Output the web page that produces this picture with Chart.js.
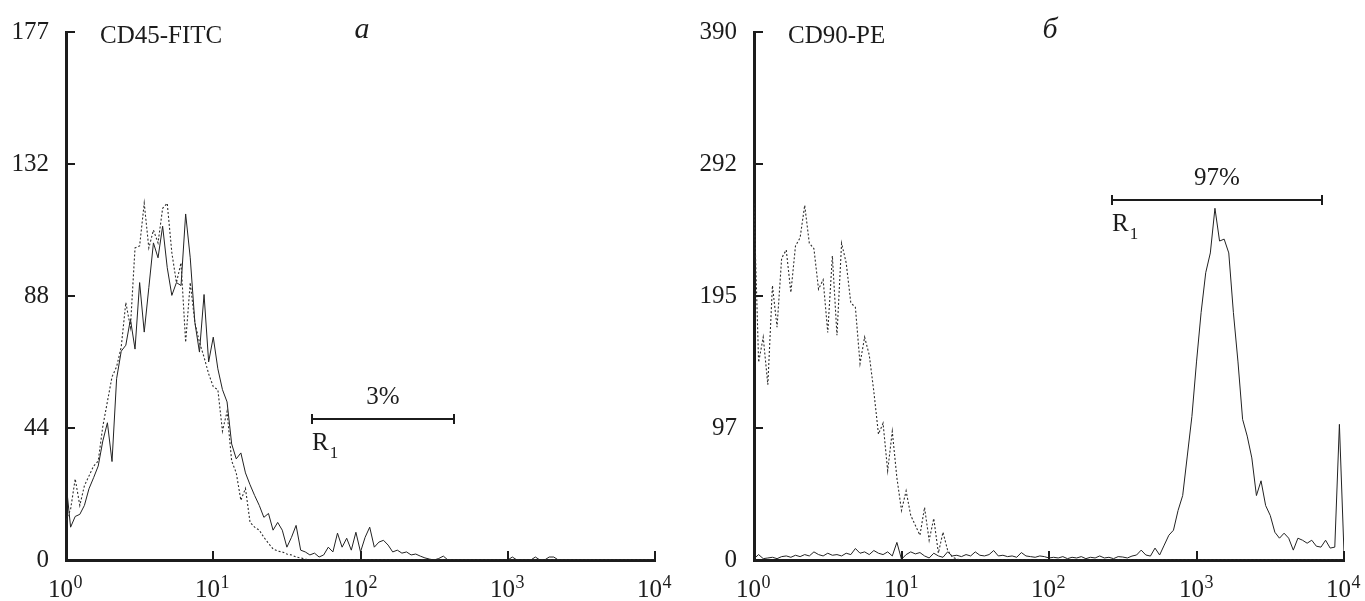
<!DOCTYPE html>
<html><head><meta charset="utf-8">
<script src="https://cdn.jsdelivr.net/npm/chart.js@4.4.1/dist/chart.umd.min.js"></script>
<style>
html,body{margin:0;padding:0;background:#fff;width:1365px;height:601px;overflow:hidden;}
#wrapA{position:absolute;left:0;top:0;width:690px;height:601px;}
#wrapB{position:absolute;left:688px;top:0;width:677px;height:601px;}
canvas{display:block;}
</style></head><body>
<div id="wrapA"><canvas id="chartA" width="690" height="601"></canvas></div>
<div id="wrapB"><canvas id="chartB" width="677" height="601"></canvas></div>
<script>
// ---------- data ----------
// channel numbers (128 log channels over 4 decades)
const channels = Array.from({length: 129}, (_, i) => i);
const xTickChannels = [0, 32, 64, 96, 128];
const xTickBase = '10';
const xTickExponents = ['0', '1', '2', '3', '4'];

// panel а : CD45-FITC
const titleA = 'CD45-FITC';
const letterA = 'а';
const yTicksA = [0, 44.25, 88.5, 132.75, 177];
const yTickLabelsA = ['0', '44', '88', '132', '177'];
const cd45Stained = [
  26, 11, 14.6, 15.3, 18.3, 23.9, 27.6, 31.5, 39.9, 46,
  33, 60.8, 70, 72, 80.7, 70.7, 93, 76.4, 91.3, 106.3,
  101.3, 111.9, 98, 88.7, 93, 92, 116, 101.3, 79.7, 69.7,
  89, 66.4, 74.7, 64.1, 57.1, 53, 38.9, 33.9, 35.9, 29.2,
  25.2, 21.6, 18.3, 14.3, 15.6, 10, 12.6, 10, 4.3, 7.6,
  11.6, 3.3, 2.7, 1.7, 2.3, 1, 1.7, 4.3, 2.7, 9,
  4.3, 7.3, 3.3, 9.3, 2.7, 7.6, 11, 4.3, 6, 6.6,
  5, 2.7, 3.3, 2.3, 2.7, 1.7, 2, 1.3, 0.7, 0.3,
  0, 0.5, 1.3, 0, 0, 0, 0, 0, 0, 0,
  0, 0, 0, 0, 0, 0, 0, 1, 0, 0,
  0, 0, 1, 0, 0, 1, 1, 0, 0, 0,
  0, 0, 0, 0, 0, 0, 0, 0, 0, 0,
  0, 0, 0, 0, 0, 0, 0, 0, 0
];
const cd45Control = [
  13.3, 17, 27.2, 18.3, 24.9, 28.2, 31.5, 33.2, 44.8, 53.1,
  61.4, 64.8, 71.4, 86.3, 78, 104.6, 105.3, 119.6, 104.6, 110.6,
  106.3, 117.9, 119.6, 103, 93, 99.6, 73, 93, 79.7, 73,
  68, 62.4, 58.1, 57.1, 43.2, 49.8, 33.2, 29.2, 20, 24,
  12.6, 11, 10, 7.6, 5.6, 3.7, 3, 2.7, 2, 1.7,
  1, 0.7, 0.3, 0, 0, 0, 0, 0, 0, 0,
  0, 0, 0, 0, 0, 0, 0, 0, 0, 0,
  0, 0, 0, 0, 0, 0, 0, 0, 0, 0,
  0, 0, 0, 0, 0, 0, 0, 0, 0, 0,
  0, 0, 0, 0, 0, 0, 0, 0, 0, 0,
  0, 0, 0, 0, 0, 0, 0, 0, 0, 0,
  0, 0, 0, 0, 0, 0, 0, 0, 0, 0,
  0, 0, 0, 0, 0, 0, 0, 0, 0
];
const gateA = [53.5, 84.3];
const gateLevelA = 47.2;
const gatePctA = '3%';

// panel б : CD90-PE
const titleB = 'CD90-PE';
const letterB = 'б';
const yTicksB = [0, 97.5, 195, 292.5, 390];
const yTickLabelsB = ['0', '97', '195', '292', '390'];
const cd90Stained = [
  1, 4, 1, 1.5, 2, 1, 2.5, 3, 2, 3.5,
  2.5, 4, 3, 6, 4, 3, 5, 3.5, 4, 3,
  5, 4, 8.5, 5, 6, 4, 7, 5, 4, 6,
  3, 13, 0.5, 4, 6, 4.5, 5.5, 3, 1.5, 5,
  3, 2, 6, 3, 3.5, 2.5, 4, 3, 6, 3.5,
  3, 4, 7, 3, 3.5, 2.5, 3, 2, 5.5, 3,
  2.5, 2, 3, 2.5, 1.5, 2, 1.5, 2.5, 1, 2,
  1.5, 2.5, 1, 2, 1.5, 3, 1.5, 2, 1, 2.5,
  2.2, 1.5, 2.9, 3.7, 7.3, 3.7, 2.9, 8.8, 3.7, 11,
  18.3, 22, 36.6, 47.6, 76.8, 106, 146.3, 182.9, 212.2, 226.8,
  259.8, 235.6, 237, 226.8, 182.9, 146.3, 103.9, 91.5, 75.4, 47.6,
  58.5, 40.2, 32.9, 20.5, 16.1, 19.8, 16.1, 7.3, 16.1, 14.6,
  12.4, 14.6, 10.2, 9.5, 14.6, 8.8, 9.5, 100.2, 5.1
];
const cd90Control = [
  263.4, 146, 164.6, 129.5, 202.7, 172, 223, 229, 197.6, 232,
  238, 262, 234, 230, 200, 207, 168, 224.6, 166, 234,
  219.5, 190, 186.6, 145, 164.6, 151.5, 124.4, 93, 101, 65.9,
  95, 60.7, 36.6, 51, 33, 25.6, 18.3, 38.8, 14.6, 30.7,
  5.1, 20.5, 7.3, 2.2, 0.7, 0, 0, 0, 0, 0,
  0, 0, 0, 0, 0, 0, 0, 0, 0, 0,
  0, 0, 0, 0, 0, 0, 0, 0, 0, 0,
  0, 0, 0, 0, 0, 0, 0, 0, 0, 0,
  0, 0, 0, 0, 0, 0, 0, 0, 0, 0,
  0, 0, 0, 0, 0, 0, 0, 0, 0, 0,
  0, 0, 0, 0, 0, 0, 0, 0, 0, 0,
  0, 0, 0, 0, 0, 0, 0, 0, 0, 0,
  0, 0, 0, 0, 0, 0, 0, 0, 0
];
const gateB = [77.7, 123.2];
const gateLevelB = 265.6;
const gatePctB = '97%';

const gateName = 'R';
const gateSub = '1';

// ---------- styling ----------
const INK = '#1c1c1c';
const SERIF = '"Liberation Serif", "Times New Roman", Times, serif';
Chart.defaults.font.family = SERIF;
Chart.defaults.color = INK;

function toPoints(vals) { return channels.map((c, i) => ({x: c, y: vals[i]})); }

function decorPlugin(p) {
  return {
    id: 'decor',
    afterDraw(chart) {
      const {ctx, chartArea: ca, scales: {x, y}} = chart;
      ctx.save();
      ctx.strokeStyle = INK;
      ctx.lineWidth = 2;
      // inward y ticks
      p.yTicks.forEach((v, i) => {
        if (i === 0) return;
        const py = Math.round(y.getPixelForValue(v));
        ctx.beginPath(); ctx.moveTo(ca.left, py); ctx.lineTo(ca.left + 9, py); ctx.stroke();
      });
      // inward x ticks + decade labels 10^n
      ctx.fillStyle = INK;
      ctx.textBaseline = 'alphabetic';
      xTickChannels.forEach((v, i) => {
        const px = Math.round(x.getPixelForValue(v));
        if (i > 0) {
          ctx.beginPath(); ctx.moveTo(px, ca.bottom); ctx.lineTo(px, ca.bottom - 9); ctx.stroke();
        }
        ctx.font = '25px ' + SERIF;
        const wb = ctx.measureText(xTickBase).width;
        ctx.font = '18px ' + SERIF;
        const we = ctx.measureText(xTickExponents[i]).width;
        const x0 = px - (wb + we) / 2 - 1;
        ctx.textAlign = 'left';
        ctx.font = '25px ' + SERIF;
        ctx.fillText(xTickBase, x0, ca.bottom + 37);
        ctx.font = '18px ' + SERIF;
        ctx.fillText(xTickExponents[i], x0 + wb + 0.5, ca.bottom + 28);
      });
      // gate bar
      const gx1 = Math.round(x.getPixelForValue(p.gate[0]));
      const gx2 = Math.round(x.getPixelForValue(p.gate[1]));
      const gy = Math.round(y.getPixelForValue(p.gateLevel));
      ctx.lineWidth = 2.2;
      ctx.beginPath(); ctx.moveTo(gx1, gy); ctx.lineTo(gx2, gy); ctx.stroke();
      ctx.lineWidth = 2;
      ctx.beginPath(); ctx.moveTo(gx1, gy - 5); ctx.lineTo(gx1, gy + 5); ctx.stroke();
      ctx.beginPath(); ctx.moveTo(gx2, gy - 5); ctx.lineTo(gx2, gy + 5); ctx.stroke();
      // texts
      ctx.font = '25px ' + SERIF;
      ctx.textAlign = 'center';
      ctx.fillText(p.pct, (gx1 + gx2) / 2, gy - 15);
      ctx.textAlign = 'left';
      ctx.fillText(gateName, gx1, gy + 31);
      const rw = ctx.measureText(gateName).width;
      ctx.font = '17px ' + SERIF;
      ctx.fillText(gateSub, gx1 + rw + 1, gy + 39);
      ctx.font = '25px ' + SERIF;
      ctx.fillText(p.title, ca.left + 34, 43);
      ctx.font = 'italic 30px ' + SERIF;
      ctx.textAlign = 'center';
      ctx.fillText(p.letter, ca.left + 296, 38);
      ctx.restore();
    }
  };
}

function makeChart(id, p) {
  return new Chart(document.getElementById(id), {
    type: 'line',
    data: {
      datasets: [
        { label: 'control', data: toPoints(p.control), borderColor: '#2e2e2e', borderWidth: 1.1,
          borderDash: [2, 2], pointRadius: 0, tension: 0, fill: false },
        { label: 'stained', data: toPoints(p.stained), borderColor: '#222', borderWidth: 1,
          pointRadius: 0, tension: 0, fill: false }
      ]
    },
    options: {
      responsive: false,
      animation: false,
      devicePixelRatio: 1,
      layout: { padding: { left: 0, top: 27, right: p.padRight, bottom: 0 } },
      plugins: { legend: { display: false }, tooltip: { enabled: false } },
      scales: {
        x: {
          type: 'linear', min: 0, max: 128,
          afterBuildTicks: s => { s.ticks = xTickChannels.map(v => ({value: v})); },
          afterFit: s => { s.height = 41; },
          ticks: { display: false },
          grid: { display: false, drawTicks: false },
          border: { display: true, width: 3, color: INK }
        },
        y: {
          type: 'linear', min: 0, max: p.yTicks[p.yTicks.length - 1],
          afterBuildTicks: s => { s.ticks = p.yTicks.map(v => ({value: v})); },
          afterFit: s => { s.width = 66; },
          ticks: { padding: 17, font: { size: 25, family: SERIF }, color: INK,
                   callback: (v) => p.yLabels[p.yTicks.indexOf(v)] },
          grid: { display: false, drawTicks: false },
          border: { display: true, width: 3, color: INK }
        }
      }
    },
    plugins: [decorPlugin(p)]
  });
}

makeChart('chartA', { stained: cd45Stained, control: cd45Control, yTicks: yTicksA, yLabels: yTickLabelsA,
  gate: gateA, gateLevel: gateLevelA, pct: gatePctA, title: titleA, letter: letterA, padRight: 35 });
makeChart('chartB', { stained: cd90Stained, control: cd90Control, yTicks: yTicksB, yLabels: yTickLabelsB,
  gate: gateB, gateLevel: gateLevelB, pct: gatePctB, title: titleB, letter: letterB, padRight: 21 });
</script>
</body></html>
